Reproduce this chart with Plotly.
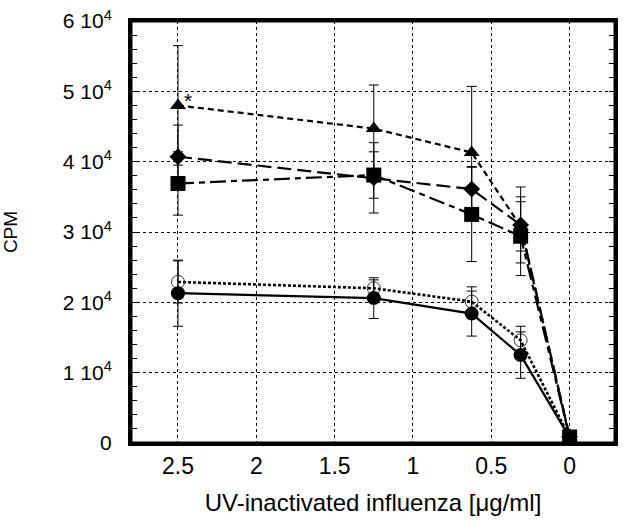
import plotly.graph_objects as go

# UV-inactivated influenza dose (ug/ml)
dose = [2.5, 1.25, 0.625, 0.3125, 0]

triangle = [48000, 44700, 41300, 30800, 900]
triangle_sd = [8500, 6200, 9400, 3500, 0]
diamond = [40700, 37700, 36100, 31000, 900]
diamond_sd = [4500, 5000, 3200, 5400, 0]
square = [36900, 38100, 32500, 29400, 850]
square_sd = [4500, 3300, 6700, 5600, 0]
open_circle = [22900, 22000, 20100, 14600, 800]
open_circle_sd = [3000, 1200, 2100, 2000, 0]
filled_circle = [21300, 20600, 18400, 12500, 800]
filled_circle_sd = [4700, 2900, 3200, 3300, 0]

y_ticks = [0, 10000, 20000, 30000, 40000, 50000, 60000]
y_ticktext = ["0"] + [f"{i} 10<sup>4</sup>" for i in range(1, 7)]
x_ticks = [2.5, 2, 1.5, 1, 0.5, 0]
x_ticktext = ["2.5", "2", "1.5", "1", "0.5", "0"]

FONT = "Arial, Liberation Sans, sans-serif"


def err(vals):
    return dict(type="data", array=vals, visible=True, color="black",
                thickness=1, width=5)


fig = go.Figure()

fig.add_trace(go.Scatter(
    x=dose, y=triangle, error_y=err(triangle_sd), mode="lines+markers",
    line=dict(color="black", width=2.2, dash="6px,4px"),
    marker=dict(symbol="triangle-up", size=14, color="black"),
))
fig.add_trace(go.Scatter(
    x=dose, y=diamond, error_y=err(diamond_sd), mode="lines+markers",
    line=dict(color="black", width=2.2, dash="14px,6px"),
    marker=dict(symbol="diamond", size=13, color="black"),
))
fig.add_trace(go.Scatter(
    x=dose, y=square, error_y=err(square_sd), mode="lines+markers",
    line=dict(color="black", width=2.2, dash="16px,5px,6px,5px"),
    marker=dict(symbol="square", size=15, color="black"),
))
fig.add_trace(go.Scatter(
    x=dose, y=open_circle, error_y=err(open_circle_sd), mode="lines+markers",
    line=dict(color="black", width=2.6, dash="3px,2px"),
    marker=dict(symbol="circle-open", size=13, color="#333",
                line=dict(width=1)),
))
fig.add_trace(go.Scatter(
    x=dose, y=filled_circle, error_y=err(filled_circle_sd), mode="lines+markers",
    line=dict(color="black", width=2.2),
    marker=dict(symbol="circle", size=14, color="black"),
))

fig.add_annotation(x=dose[0], y=triangle[0], text="*", showarrow=False,
                   xshift=10, yshift=5, font=dict(size=21, color="black"))

# heavy frame around the plotting area
fig.add_shape(type="rect", xref="paper", yref="paper", x0=0, y0=0, x1=1, y1=1,
              line=dict(color="black", width=3), layer="above")

fig.update_layout(
    width=625, height=520,
    margin=dict(l=130, r=7, t=20, b=77),
    paper_bgcolor="white", plot_bgcolor="white",
    showlegend=False,
    font=dict(family=FONT, color="black"),
    xaxis=dict(
        range=[2.8, -0.29],
        tickvals=x_ticks, ticktext=x_ticktext,
        tickfont=dict(size=23), ticks="", ticklabelstandoff=0,
        showgrid=True, gridcolor="black", gridwidth=1, griddash="3px,3px",
        zeroline=False,
        showline=True, linecolor="black", linewidth=3, mirror=True,
        title=dict(text="UV-inactivated influenza [\u03bcg/ml]",
                   font=dict(size=24), standoff=17),
    ),
    yaxis=dict(
        range=[0, 60000],
        tickvals=y_ticks, ticktext=y_ticktext,
        tickfont=dict(size=21), ticks="", ticklabelstandoff=12,
        showgrid=True, gridcolor="black", gridwidth=1, griddash="3px,3px",
        zeroline=False,
        showline=True, linecolor="black", linewidth=3, mirror="ticks",
        minor=dict(dtick=2000, ticks="inside", ticklen=6,
                   tickcolor="black", tickwidth=1, showgrid=False),
        title=dict(text="CPM", font=dict(size=19), standoff=42),
    ),
)

# drop the browser's default body margin so the figure sits at the page corner
fig.write_html("out.html", config={"displayModeBar": False},
               post_script="document.body.style.margin='0';")
